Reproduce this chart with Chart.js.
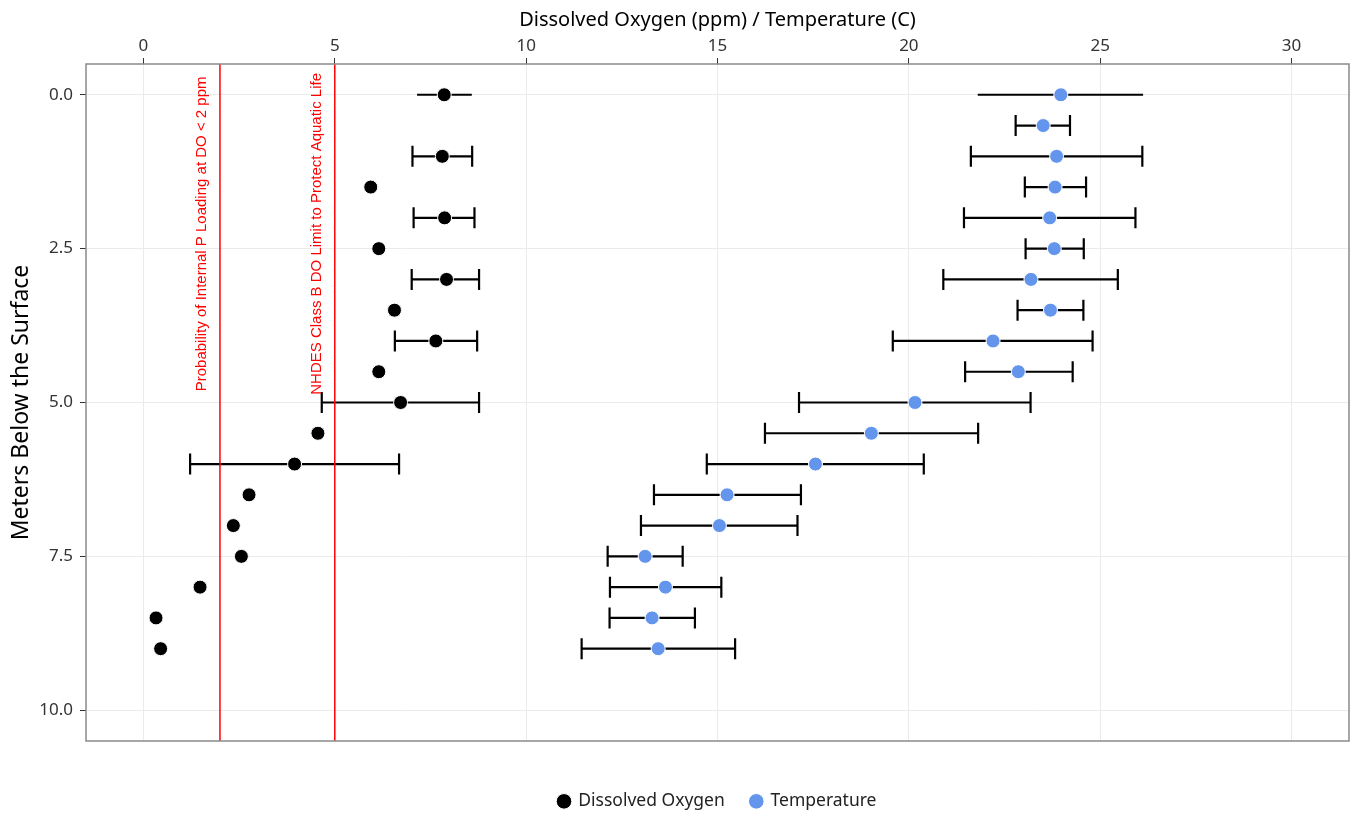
<!DOCTYPE html>
<html>
<head>
<meta charset="utf-8">
<title>Depth profile</title>
<script src="https://cdn.jsdelivr.net/npm/chart.js@4.4.1/dist/chart.umd.min.js"></script>
<style>
  body { margin: 0; background: #fff; }
  #wrap { width: 1351px; height: 814px; }
</style>
</head>
<body>
<div id="wrap"><canvas id="profileChart"></canvas></div>
<script>
// Sampling depths (m) and readings at each depth
const depths = [0, 0.5, 1, 1.5, 2, 2.5, 3, 3.5, 4, 4.5, 5, 5.5, 6, 6.5, 7, 7.5, 8, 8.5, 9];

const doMean = [7.86, null, 7.81, 5.94, 7.87, 6.15, 7.92, 6.56, 7.64, 6.15, 6.72, 4.56, 3.95, 2.76, 2.35, 2.56, 1.48, 0.33, 0.45];
const doLow  = [7.15, null, 7.03, null, 7.06, null, 7.01, null, 6.57, null, 4.66, null, 1.22, null, null, null, null, null, null];
const doHigh = [8.58, null, 8.59, null, 8.65, null, 8.77, null, 8.72, null, 8.77, null, 6.68, null, null, null, null, null, null];

const tempMean = [23.97, 23.51, 23.86, 23.82, 23.68, 23.80, 23.19, 23.70, 22.20, 22.86, 20.16, 19.02, 17.56, 15.25, 15.05, 13.11, 13.64, 13.29, 13.45];
const tempLow  = [21.80, 22.79, 21.62, 23.03, 21.44, 23.05, 20.90, 22.84, 19.58, 21.47, 17.13, 16.24, 14.72, 13.34, 13.00, 12.13, 12.19, 12.18, 11.45];
const tempHigh = [26.12, 24.21, 26.10, 24.63, 25.92, 24.57, 25.46, 24.56, 24.80, 24.28, 23.18, 21.81, 20.39, 17.18, 17.09, 14.09, 15.10, 14.41, 15.46];

const depthTicks = [0, 2.5, 5, 7.5, 10];
const valueTicks = [0, 5, 10, 15, 20, 25, 30];

// DO thresholds shown as vertical reference lines
const refValues = [2, 5];
const refLabels = ['Probability of Internal P Loading at DO < 2 ppm', 'NHDES Class B DO Limit to Protect Aquatic Life'];

function toPoints(mean, low, high) {
    const pts = [];
    depths.forEach((d, i) => {
        if (mean[i] === null) return;
        pts.push({ x: mean[i], y: d, xMin: low[i], xMax: high[i] });
    });
    return pts;
}

// Error bars and threshold lines go under the points
const profileExtras = {
    id: 'profileExtras',
    beforeDatasetsDraw(chart) {
        const { ctx, chartArea, scales: { x, y } } = chart;
        ctx.save();
        ctx.strokeStyle = '#000';
        ctx.lineWidth = 2.2;
        chart.data.datasets.forEach(ds => {
            ds.data.forEach(p => {
                if (p.xMin === null || p.xMin === undefined) return;
                const py = y.getPixelForValue(p.y);
                const x0 = x.getPixelForValue(p.xMin);
                const x1 = x.getPixelForValue(p.xMax);
                ctx.beginPath();
                ctx.moveTo(x0, py);
                ctx.lineTo(x1, py);
                if (p.y > 0) {
                    ctx.moveTo(x0, py - 10.5);
                    ctx.lineTo(x0, py + 10.5);
                    ctx.moveTo(x1, py - 10.5);
                    ctx.lineTo(x1, py + 10.5);
                }
                ctx.stroke();
            });
        });

        ctx.strokeStyle = '#ff0000';
        ctx.fillStyle = '#ff0000';
        ctx.lineWidth = 1.5;
        ctx.font = '15px "Liberation Sans", Arial, sans-serif';
        ctx.textAlign = 'center';
        ctx.textBaseline = 'middle';
        const labelY = y.getPixelForValue(2.26);
        refValues.forEach((v, i) => {
            const px = x.getPixelForValue(v);
            ctx.beginPath();
            ctx.moveTo(px, chartArea.top);
            ctx.lineTo(px, chartArea.bottom);
            ctx.stroke();
            ctx.save();
            ctx.translate(px - 18, labelY);
            ctx.rotate(-Math.PI / 2);
            ctx.fillText(refLabels[i], 0, 0);
            ctx.restore();
        });
        ctx.restore();
    },
    afterDraw(chart) {
        const { ctx, chartArea } = chart;
        ctx.save();
        ctx.strokeStyle = '#8a8a8a';
        ctx.lineWidth = 1.5;
        ctx.strokeRect(chartArea.left, chartArea.top, chartArea.right - chartArea.left, chartArea.bottom - chartArea.top);
        ctx.restore();
    }
};

Chart.defaults.font.family = "'Noto Sans', 'Open Sans', sans-serif";

const ctx = document.getElementById('profileChart').getContext('2d');
new Chart(ctx, {
    type: 'scatter',
    data: {
        datasets: [{
            label: 'Dissolved Oxygen',
            data: toPoints(doMean, doLow, doHigh),
            backgroundColor: '#000000',
            borderColor: '#ffffff',
            borderWidth: 1,
            pointRadius: 7,
            pointHoverRadius: 7
        }, {
            label: 'Temperature',
            data: toPoints(tempMean, tempLow, tempHigh),
            backgroundColor: '#6495ED',
            borderColor: '#ffffff',
            borderWidth: 1,
            pointRadius: 7,
            pointHoverRadius: 7
        }]
    },
    options: {
        responsive: true,
        maintainAspectRatio: false,
        animation: false,
        layout: { autoPadding: false, padding: { left: 0, right: 2, top: 0, bottom: 0 } },
        scales: {
            x: {
                type: 'linear',
                position: 'top',
                min: -1.5,
                max: 31.5,
                afterBuildTicks: scale => { scale.ticks = valueTicks.map(v => ({ value: v })); },
                afterFit: scale => {
                    scale.height = 64;
                    scale.paddingLeft = 0;
                    scale.paddingRight = 0;
                },
                grid: { color: '#ebebeb', lineWidth: 1, tickColor: '#333', tickLength: 6 },
                border: { display: false },
                ticks: { color: '#333', font: { size: 17 }, padding: 2, maxRotation: 0 },
                title: {
                    display: true,
                    text: 'Dissolved Oxygen (ppm) / Temperature (C)',
                    color: '#000',
                    font: { size: 20 },
                    padding: { top: 8, bottom: 0 }
                }
            },
            y: {
                type: 'linear',
                reverse: true,
                min: -0.5,
                max: 10.5,
                afterBuildTicks: scale => { scale.ticks = depthTicks.map(v => ({ value: v })); },
                afterFit: scale => { scale.width = 86; },
                grid: { color: '#ebebeb', lineWidth: 1, tickColor: '#333', tickLength: 6 },
                border: { display: false },
                ticks: { color: '#333', font: { size: 17 }, padding: 7, callback: v => Number(v).toFixed(1) },
                title: {
                    display: true,
                    text: 'Meters Below the Surface',
                    color: '#000',
                    font: { size: 23 },
                    padding: { top: 8, bottom: 0 }
                }
            }
        },
        plugins: {
            tooltip: { enabled: false },
            legend: {
                position: 'bottom',
                fullSize: false,
                maxHeight: 73,
                title: { display: true, text: '', padding: { top: 10, bottom: 0 }, font: { size: 13 } },
                labels: {
                    usePointStyle: true,
                    pointStyle: 'circle',
                    boxWidth: 11,
                    boxHeight: 11,
                    padding: 26,
                    color: '#222',
                    font: { size: 17.5 }
                }
            }
        }
    },
    plugins: [profileExtras]
});
</script>
</body>
</html>
